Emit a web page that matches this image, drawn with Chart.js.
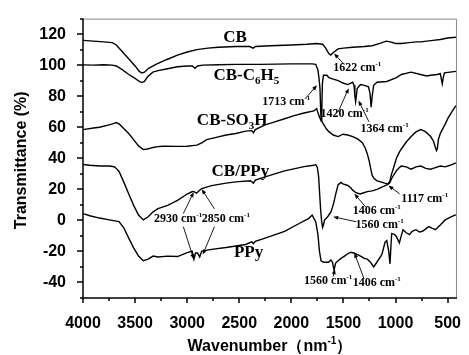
<!DOCTYPE html>
<html>
<head>
<meta charset="utf-8">
<script src="https://cdn.jsdelivr.net/npm/chart.js@4.4.1/dist/chart.umd.min.js"></script>
<style>
  body { margin: 0; background: #fff; }
</style>
</head>
<body>
<canvas id="ftir" width="469" height="355"></canvas>
<script>
"use strict";

// spectra as [wavenumber, transmittance]
const cbSpectrum = [[4000,116],[3900,115.5],[3800,115],[3720,114.5],[3680,113],[3620,108.5],[3560,104],[3500,99.5],[3460,96],[3435,95],[3410,95.5],[3370,98],[3300,100.5],[3200,103.5],[3093,106.5],[3000,108.5],[2907,110],[2800,111],[2700,111.5],[2533,112],[2400,112],[2365,111],[2345,112],[2200,112.5],[2000,113],[1850,113.5],[1760,114],[1700,113.5],[1670,111],[1640,107.5],[1622,106.5],[1600,108],[1551,110.5],[1500,111],[1411,111.5],[1300,112],[1224,112.5],[1150,114],[1090,115.5],[1050,115],[1000,114],[944,114],[870,114.5],[800,115],[757,115],[700,115.5],[640,116],[570,116.5],[500,117.5],[420,118]];

const cbPhenylSpectrum = [[4000,100.2],[3900,100],[3800,100.3],[3720,100],[3680,99.5],[3620,97],[3560,94],[3500,91.5],[3460,89.5],[3435,88.8],[3410,89.5],[3380,92.5],[3330,95.5],[3280,96.5],[3200,97.5],[3093,99],[3000,99.5],[2950,99.5],[2925,98],[2900,99.5],[2850,100],[2700,100.3],[2533,100.5],[2300,100.5],[2000,100.8],[1800,100.8],[1766,100.5],[1745,97],[1735,92],[1725,85],[1718,70],[1713,64],[1708,70],[1702,88],[1692,93.5],[1660,93.5],[1640,92],[1598,91],[1550,90],[1505,88.5],[1458,87.5],[1430,88.5],[1411,89],[1398,87],[1390,80],[1383,76.5],[1376,80],[1368,85],[1336,87.5],[1300,87],[1260,86],[1245,82],[1234,73],[1224,80],[1210,87],[1178,89],[1084,89.5],[991,92],[944,94],[850,95.5],[760,94],[700,93],[663,93.5],[600,94],[570,94.5],[560,91],[551,88],[542,92],[530,95],[477,95.5],[420,96]];

const cbSulfoSpectrum = [[4000,58.5],[3900,59.5],[3841,60],[3750,61.5],[3701,62.5],[3680,63],[3650,62],[3607,59],[3561,56],[3514,52],[3467,48],[3421,45.6],[3380,46],[3327,47],[3280,47.5],[3234,47.8],[3093,47.7],[3000,47.8],[2907,48.5],[2860,50],[2813,52],[2720,53.5],[2626,55],[2533,56],[2439,57.5],[2380,57.8],[2364,56.5],[2346,58.5],[2252,61.5],[2159,63.5],[2065,65.5],[1972,67.5],[1878,69.2],[1785,70.5],[1757,72],[1738,68],[1720,65],[1700,63],[1664,59],[1645,57.5],[1598,55],[1551,54],[1505,55.5],[1458,55],[1411,54],[1364,52.5],[1318,50],[1290,46.5],[1271,43],[1252,38],[1234,32],[1224,29],[1206,27],[1178,25.5],[1150,25],[1103,24],[1075,23.5],[1056,25],[1037,30],[1009,36],[991,40],[963,44],[944,46],[897,50.5],[850,54],[804,57],[757,58.5],[738,58],[710,57],[663,54],[635,51],[617,47],[607,45],[598,46.5],[589,52],[570,56],[551,58.5],[523,62],[495,66],[477,68],[449,71],[420,74]];

const cbPpySpectrum = [[4000,36],[3935,35.5],[3841,35],[3748,35],[3701,34.6],[3680,33.5],[3654,31.5],[3607,24.5],[3561,17],[3514,9.7],[3467,3.4],[3421,0.3],[3374,2.3],[3327,5.5],[3280,7.6],[3187,9.7],[3093,12.9],[3000,17],[2950,18.6],[2935,18.5],[2910,17.5],[2888,19],[2860,20.5],[2766,22.4],[2626,24],[2533,24.8],[2393,25.5],[2364,24],[2346,26],[2252,28],[2065,31.9],[1878,34.6],[1785,35.5],[1766,36],[1750,34],[1738,28],[1729,18],[1720,8],[1710,0],[1700,-4.5],[1692,-3],[1680,0.5],[1664,1.3],[1645,3],[1620,5.5],[1598,10],[1570,18],[1551,23],[1523,24.5],[1505,23.5],[1458,22.5],[1430,21],[1411,19.5],[1383,18],[1364,17.5],[1336,17],[1318,17.5],[1271,18.5],[1224,19],[1178,20],[1131,21.5],[1084,22.8],[1056,24],[1037,27],[991,32],[963,34],[944,35],[897,34.5],[850,33],[804,34.5],[757,35],[710,33.5],[663,33],[617,34],[570,35],[523,34.5],[477,35.5],[420,37]];

const ppySpectrum = [[4000,4.4],[3935,3],[3841,1.5],[3748,0.3],[3654,-0.8],[3607,-5],[3561,-11.4],[3514,-17.7],[3467,-23],[3421,-26],[3374,-25],[3327,-23],[3280,-23.6],[3187,-23],[3093,-23.3],[3000,-20.8],[2953,-19.8],[2935,-25],[2920,-21],[2900,-21],[2880,-23.6],[2860,-19.8],[2766,-18.7],[2626,-17.5],[2439,-15.5],[2380,-13.8],[2364,-15],[2346,-13.5],[2252,-11.4],[2065,-7.1],[1925,-2],[1832,1.3],[1800,3.4],[1766,-0.8],[1745,-9],[1730,-20],[1715,-26],[1690,-27],[1645,-27],[1620,-25.5],[1605,-27],[1590,-32],[1575,-27.5],[1551,-26],[1523,-24.5],[1490,-23],[1458,-21.5],[1430,-20.5],[1400,-21],[1364,-22],[1336,-23],[1300,-24.5],[1271,-25],[1240,-27],[1209,-30],[1170,-26],[1131,-22],[1100,-14],[1084,-13],[1065,-20],[1053,-28],[1045,-18],[1037,-8.5],[1010,-9],[991,-10.5],[963,-14.5],[945,-10],[928,-6],[897,-8],[866,-9.2],[840,-7],[804,-6],[770,-7.5],[741,-7],[710,-5.5],[680,-4],[650,-5],[617,-6],[570,-3],[523,0.3],[477,2],[430,3.4],[420,3.5]];

const xTickLabels = [4000, 3500, 3000, 2500, 2000, 1500, 1000, 500];
const yTickLabels = [-40, -20, 0, 20, 40, 60, 80, 100, 120];

// curve names, anchored at [wavenumber, transmittance] (left edge, middle)
const curveNames = [
  { text: "CB", at: [2654, 118.7] },
  { text: "CB-C_6H_5", at: [2748, 94.1] },
  { text: "CB-SO_3H", at: [2907, 65] },
  { text: "CB/PPy", at: [2766, 32.7] },
  { text: "PPy", at: [2551, -19.8] },
];

// band assignments
const bandNotes = [
  { text: "1622 cm^{-1}", at: [1598, 99.1] },
  { text: "1713 cm^{-1}", at: [2280, 77] },
  { text: "1420 cm^{-1}", at: [1720, 69.4] },
  { text: "1364 cm^{-1}", at: [1336, 59.9] },
  { text: "2930 cm^{-1}", at: [3318, 1.7] },
  { text: "2850 cm^{-1}", at: [2860, 1.7] },
  { text: "1406 cm^{-1}", at: [1411, 6.8] },
  { text: "1117 cm^{-1}", at: [944, 14.4] },
  { text: "1560 cm^{-1}", at: [1383, -2.1] },
  { text: "1560 cm^{-1}", at: [1878, -38.1] },
  { text: "1406 cm^{-1}", at: [1411, -39.4] },
];

const bandArrows = [
  { from: [1500, 101], to: [1590, 107.5] },
  { from: [1863, 78.7], to: [1754, 87] },
  { from: [1551, 69.8], to: [1449, 85.2] },
  { from: [1255, 63.5], to: [1355, 77.2] },
  { from: [3037, 4.4], to: [2937, 18.2] },
  { from: [3037, -4], to: [2937, -25] },
  { from: [2738, 7.4], to: [2860, 20.1] },
  { from: [2738, -4], to: [2850, -22] },
  { from: [1287, 8.7], to: [1395, 17.1] },
  { from: [960, 17.1], to: [1068, 22.4] },
  { from: [1380, -0.8], to: [1598, 2.3] },
  { from: [1598, -36.2], to: [1582, -31.4] },
  { from: [1302, -37.7], to: [1395, -20.9] },
];

const SANS = "Arial, 'Liberation Sans', sans-serif";
const SERIF = "'Times New Roman', 'Liberation Serif', serif";

// "_x" = subscript char, "^{..}" = superscript group
function parseRich(s) {
  const out = [];
  let i = 0;
  while (i < s.length) {
    const c = s[i];
    if (c === "_" || c === "^") {
      const mode = c === "_" ? "sub" : "sup";
      let t;
      if (s[i + 1] === "{") {
        const j = s.indexOf("}", i);
        t = s.slice(i + 2, j);
        i = j + 1;
      } else {
        t = s[i + 1];
        i += 2;
      }
      out.push({ t, mode });
    } else {
      const last = out[out.length - 1];
      if (last && last.mode === "n") last.t += c;
      else out.push({ t: c, mode: "n" });
      i++;
    }
  }
  return out;
}

function drawRich(ctx, str, x, yMid, size, family, align) {
  const parts = parseRich(str);
  const small = Math.round(size * 0.62);
  let w = 0;
  parts.forEach((p) => {
    ctx.font = "bold " + (p.mode === "n" ? size : small) + "px " + family;
    p.w = ctx.measureText(p.t).width;
    w += p.w;
  });
  let cx = align === "center" ? x - w / 2 : x;
  const base = yMid + size * 0.35;
  ctx.textAlign = "left";
  ctx.textBaseline = "alphabetic";
  parts.forEach((p) => {
    ctx.font = "bold " + (p.mode === "n" ? size : small) + "px " + family;
    let dy = 0;
    if (p.mode === "sub") dy = size * 0.22;
    if (p.mode === "sup") dy = -size * 0.42;
    ctx.fillText(p.t, cx, base + dy);
    cx += p.w;
  });
}

function arrow(ctx, x0, y0, x1, y1) {
  const ang = Math.atan2(y1 - y0, x1 - x0);
  const len = 5, half = 2;
  ctx.beginPath();
  ctx.moveTo(x0, y0);
  ctx.lineTo(x1 - Math.cos(ang) * len * 0.8, y1 - Math.sin(ang) * len * 0.8);
  ctx.stroke();
  ctx.beginPath();
  ctx.moveTo(x1, y1);
  ctx.lineTo(x1 - Math.cos(ang) * len - Math.sin(ang) * half, y1 - Math.sin(ang) * len + Math.cos(ang) * half);
  ctx.lineTo(x1 - Math.cos(ang) * len + Math.sin(ang) * half, y1 - Math.sin(ang) * len - Math.cos(ang) * half);
  ctx.closePath();
  ctx.fill();
}

const frameAndNotes = {
  id: "frameAndNotes",
  afterDraw(chart) {
    const { ctx, chartArea: a, scales } = chart;
    const sx = scales.x, sy = scales.y;
    const px = (p) => [sx.getPixelForValue(p[0]), sy.getPixelForValue(p[1])];
    ctx.save();

    // grey box on top/right
    ctx.strokeStyle = "#8a8a8a";
    ctx.lineWidth = 1;
    ctx.beginPath();
    ctx.moveTo(a.left, a.top + 0.5);
    ctx.lineTo(a.right - 0.5, a.top + 0.5);
    ctx.lineTo(a.right - 0.5, a.bottom);
    ctx.stroke();

    // axes with major/minor ticks
    ctx.strokeStyle = "#000";
    ctx.lineWidth = 1.5;
    ctx.beginPath();
    ctx.moveTo(a.left, a.top);
    ctx.lineTo(a.left, a.bottom);
    ctx.lineTo(a.right, a.bottom);
    ctx.stroke();
    ctx.beginPath();
    for (let v = 500; v <= 4000; v += 250) {
      const x = Math.round(sx.getPixelForValue(v));
      ctx.moveTo(x, a.bottom);
      ctx.lineTo(x, a.bottom + (v % 500 === 0 ? 5 : 3));
    }
    for (let v = -50; v <= 130; v += 10) {
      const y = Math.round(sy.getPixelForValue(v));
      ctx.moveTo(a.left, y);
      ctx.lineTo(a.left - (v % 20 === 0 ? 6 : 3), y);
    }
    ctx.stroke();

    // axis titles
    ctx.fillStyle = "#000";
    drawRich(ctx, "Wavenumber（nm^{-1}）", (a.left + a.right) / 2, 345, 16, SANS, "center");
    ctx.save();
    ctx.translate(20, (a.top + a.bottom) / 2 + 2);
    ctx.rotate(-Math.PI / 2);
    drawRich(ctx, "Transmittance (%)", 0, 0, 16, SANS, "center");
    ctx.restore();

    // curve names and band notes
    curveNames.forEach((n) => {
      const [x, y] = px(n.at);
      drawRich(ctx, n.text, x, y, 17, SERIF, "left");
    });
    bandNotes.forEach((n) => {
      const [x, y] = px(n.at);
      drawRich(ctx, n.text, x, y, 12, SERIF, "left");
    });
    ctx.lineWidth = 0.9;
    bandArrows.forEach((r) => {
      const [x0, y0] = px(r.from);
      const [x1, y1] = px(r.to);
      arrow(ctx, x0, y0, x1, y1);
    });
    ctx.restore();
  },
};

const toPoints = (arr) => arr.map((p) => ({ x: p[0], y: p[1] }));
const series = [cbSpectrum, cbPhenylSpectrum, cbSulfoSpectrum, cbPpySpectrum, ppySpectrum];

new Chart(document.getElementById("ftir"), {
  type: "line",
  data: {
    datasets: series.map((s) => ({
      data: toPoints(s),
      borderColor: "#000",
      borderWidth: 1.4,
      pointRadius: 0,
      tension: 0,
      fill: false,
    })),
  },
  options: {
    responsive: false,
    animation: false,
    parsing: false,
    layout: { padding: { top: 13, right: 2, left: 0, bottom: 0 } },
    plugins: { legend: { display: false }, tooltip: { enabled: false } },
    scales: {
      x: {
        type: "linear",
        reverse: true,
        min: 410,
        max: 4000,
        grid: { display: false },
        border: { display: false },
        afterBuildTicks: (scale) => {
          scale.ticks = xTickLabels.map((v) => ({ value: v }));
        },
        afterFit: (scale) => {
          scale.height = 57;
        },
        ticks: {
          autoSkip: false,
          maxRotation: 0,
          padding: 8,
          color: "#000",
          font: { family: SANS, size: 16, weight: "bold" },
          callback: (v) => String(v),
        },
      },
      y: {
        min: -50,
        max: 130,
        grid: { display: false },
        border: { display: false },
        afterBuildTicks: (scale) => {
          scale.ticks = yTickLabels.map((v) => ({ value: v }));
        },
        afterFit: (scale) => {
          scale.width = 83;
        },
        ticks: {
          autoSkip: false,
          padding: 9,
          color: "#000",
          font: { family: SANS, size: 16, weight: "bold" },
          callback: (v) => String(v),
        },
      },
    },
  },
  plugins: [frameAndNotes],
});
</script>
</body>
</html>
